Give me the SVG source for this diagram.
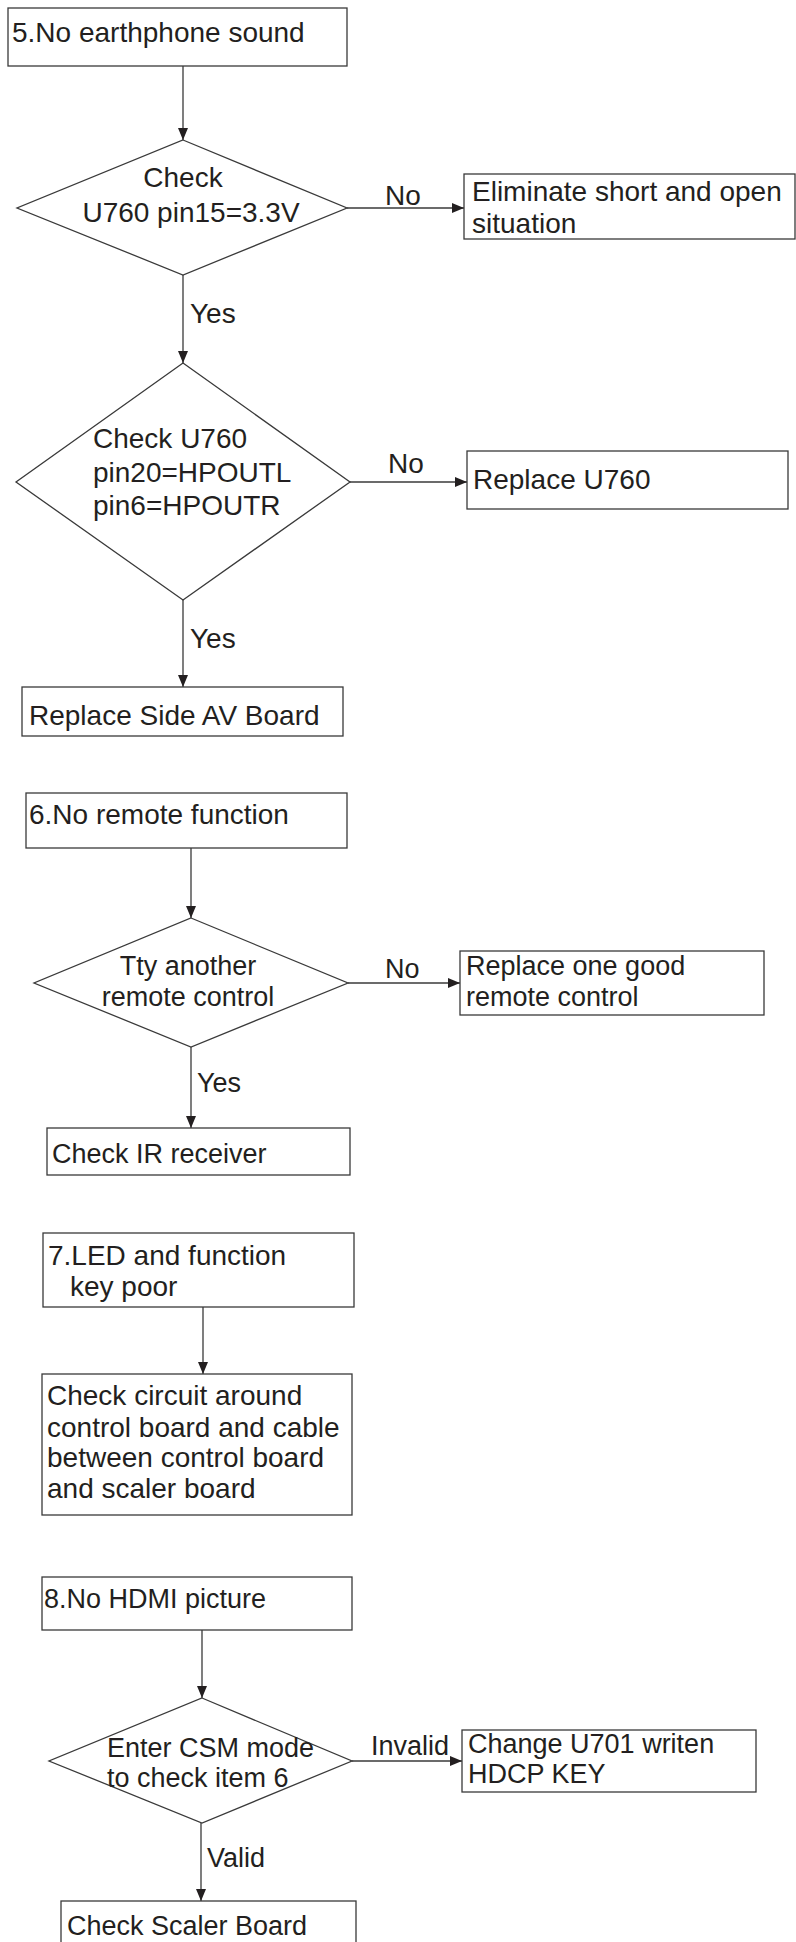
<svg xmlns="http://www.w3.org/2000/svg" width="796" height="1942" viewBox="0 0 796 1942">
<style>
.n{fill:#fff;stroke:#3a3a3a;stroke-width:1.3}
.t{font-family:"Liberation Sans",Arial,sans-serif;font-size:28px;fill:#231f20}
.s{font-family:"Liberation Sans",Arial,sans-serif;font-size:27px;fill:#231f20}
.c{stroke:#3a3a3a;stroke-width:1.3;fill:none;marker-end:url(#ah)}
</style>
<defs>
<marker id="ah" viewBox="0 0 12 12" refX="12" refY="6" markerWidth="12" markerHeight="12" markerUnits="userSpaceOnUse" orient="auto">
<path d="M0,1 L12,6 L0,11 Z" fill="#231f20"/>
</marker>
</defs>
<rect width="796" height="1942" fill="#fff"/>
<g id="connectors">
<line class="c" x1="183" y1="66" x2="183" y2="140"/>
<line class="c" x1="347" y1="208" x2="464" y2="208"/>
<line class="c" x1="183" y1="275" x2="183" y2="363"/>
<line class="c" x1="350" y1="482" x2="467" y2="482"/>
<line class="c" x1="183" y1="600" x2="183" y2="687"/>
<line class="c" x1="191" y1="848" x2="191" y2="918"/>
<line class="c" x1="348" y1="983" x2="460" y2="983"/>
<line class="c" x1="191" y1="1047" x2="191" y2="1128"/>
<line class="c" x1="203" y1="1307" x2="203" y2="1374"/>
<line class="c" x1="202" y1="1630" x2="202" y2="1698"/>
<line class="c" x1="352" y1="1761" x2="462" y2="1761"/>
<line class="c" x1="201" y1="1823" x2="201" y2="1901"/>
<text class="t" x="385" y="205">No</text>
<text class="t" x="190" y="323">Yes</text>
<text class="t" x="388" y="473">No</text>
<text class="t" x="190" y="648">Yes</text>
<text class="s" x="385" y="978">No</text>
<text class="s" x="197" y="1092">Yes</text>
<text class="s" x="371" y="1755">Invalid</text>
<text class="s" x="207" y="1867">Valid</text>
</g>
<g id="n5">
<rect class="n" x="8" y="8" width="339" height="58"/>
<text class="t" x="12" y="42">5.No earthphone sound</text>
</g>
<g id="d1">
<polygon class="n" points="183,140 347,208 183,275 17,208"/>
<text class="t" x="183" y="187" text-anchor="middle">Check</text>
<text class="t" x="191" y="222" text-anchor="middle">U760 pin15=3.3V</text>
</g>
<g id="b1">
<rect class="n" x="464" y="174" width="331" height="65"/>
<text class="t" x="472" y="201">Eliminate short and open</text>
<text class="t" x="472" y="233">situation</text>
</g>
<g id="d2">
<polygon class="n" points="183,363 350,482 183,600 16,482"/>
<text class="t" x="93" y="448">Check U760</text>
<text class="t" x="93" y="482">pin20=HPOUTL</text>
<text class="t" x="93" y="515">pin6=HPOUTR</text>
</g>
<g id="b2">
<rect class="n" x="467" y="451" width="321" height="58"/>
<text class="t" x="473" y="489">Replace U760</text>
</g>
<g id="b3">
<rect class="n" x="22" y="687" width="321" height="49"/>
<text class="t" x="29" y="725">Replace Side AV Board</text>
</g>
<g id="n6">
<rect class="n" x="26" y="793" width="321" height="55"/>
<text class="t" x="29" y="824">6.No remote function</text>
</g>
<g id="d3">
<polygon class="n" points="191,918 348,983 191,1047 34,983"/>
<text class="s" x="188" y="975" text-anchor="middle">Tty another</text>
<text class="s" x="188" y="1006" text-anchor="middle">remote control</text>
</g>
<g id="b4">
<rect class="n" x="460" y="951" width="304" height="64"/>
<text class="s" x="466" y="975">Replace one good</text>
<text class="s" x="466" y="1006">remote control</text>
</g>
<g id="b5">
<rect class="n" x="47" y="1128" width="303" height="47"/>
<text class="s" x="52" y="1163">Check IR receiver</text>
</g>
<g id="n7">
<rect class="n" x="43" y="1233" width="311" height="74"/>
<text class="t" x="48" y="1265">7.LED and function</text>
<text class="t" x="70" y="1296">key poor</text>
</g>
<g id="b6">
<rect class="n" x="42" y="1374" width="310" height="141"/>
<text class="t" x="47" y="1405">Check circuit around</text>
<text class="t" x="47" y="1437">control board and cable</text>
<text class="t" x="47" y="1467">between control board</text>
<text class="t" x="47" y="1498">and scaler board</text>
</g>
<g id="n8">
<rect class="n" x="42" y="1577" width="310" height="53"/>
<text class="s" x="44" y="1608">8.No HDMI picture</text>
</g>
<g id="d4">
<polygon class="n" points="202,1698 352,1761 202,1823 49,1761"/>
<text class="s" x="107" y="1757">Enter CSM mode</text>
<text class="s" x="107" y="1787">to check item 6</text>
</g>
<g id="b7">
<rect class="n" x="462" y="1730" width="294" height="62"/>
<text class="s" x="468" y="1753">Change U701 writen</text>
<text class="s" x="468" y="1783">HDCP KEY</text>
</g>
<g id="b8">
<rect class="n" x="61" y="1901" width="295" height="60"/>
<text class="s" x="67" y="1935">Check Scaler Board</text>
</g>
</svg>
